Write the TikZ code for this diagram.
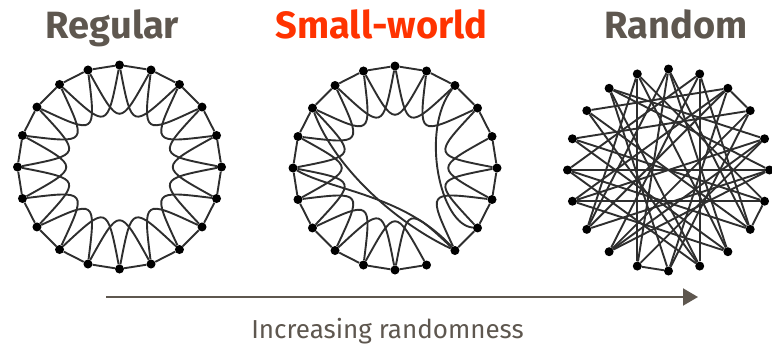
\documentclass[tikz,border=0pt]{standalone}
\usepackage{fontspec}
\setmainfont{Fira Sans}
\usetikzlibrary{arrows.meta,calc}
\definecolor{titlegrey}{HTML}{5E574F}
\definecolor{titlered}{HTML}{FF3300}
\pgfdeclarelayer{background}
\pgfsetlayers{background,main}
\begin{document}
\begin{tikzpicture}[x=1pt,y=-1pt,
  dot/.style={circle,fill=black,inner sep=0pt,minimum size=9pt},
  edge/.style={draw=black!82,line width=1.9pt},
  title/.style={font=\bfseries\fontsize{38}{42}\selectfont,anchor=base},
  caption/.style={font=\fontsize{26}{30}\selectfont,text=titlegrey,anchor=base},
  axis/.style={draw=titlegrey,line width=2pt,-{Triangle[length=15pt,width=17pt]}}
  ]
\useasboundingbox (0,0) rectangle (772,348);
% centres
\coordinate (cR) at (119.5,167);
\coordinate (cS) at (395,168);
\coordinate (cX) at (668.5,170);
% titles
\node[title,text=titlegrey] (tReg) at (112.5,38) {Regular};
\node[title,text=titlered] (tSW) at (381.5,38) {Small-world};
\node[title,text=titlegrey] (tRand) at (676,38) {Random};
% nodes and inner turning points
\foreach \i in {0,...,19}{
  \path (cR) ++(18*\i-90:102) node[dot] (r\i) {};
  \path (cS) ++(18*\i-90:102) node[dot] (s\i) {};
  \path (cX) ++(18*\i-90:101) node[dot] (x\i) {};
  \coordinate (rp\i) at ($(cR)+(18*\i-72:40)$);
  \coordinate (sp\i) at ($(cS)+(18*\i-72:40)$);
}
\begin{pgfonlayer}{background}
% regular lattice
\foreach \i in {0,...,19}{
  \pgfmathtruncatemacro\j{mod(\i+1,20)}
  \pgfmathtruncatemacro\k{mod(\i+2,20)}
  \draw[edge] (r\i) -- (r\j);
  \draw[edge] (r\i) .. controls (rp\i) and (rp\i) .. (r\k);
}
% small world: lattice with a few rewired links
\foreach \i in {0,...,19}{
  \pgfmathtruncatemacro\j{mod(\i+1,20)}
  \ifnum\i=8\else
    \draw[edge] (s\i) -- (s\j);
  \fi
}
\foreach \i in {0,1,3,4,5,6,8,9,10,11,12,13,14,15,16,17,18,19}{
  \pgfmathtruncatemacro\k{mod(\i+2,20)}
  \draw[edge] (s\i) .. controls (sp\i) and (sp\i) .. (s\k);
}
\draw[edge] (s17) .. controls (335,168) and (395,222) .. (s8);
\draw[edge] (s15) .. controls (330,190) and (405,195) .. (s8);
\draw[edge] (s2) .. controls (420,130) and (440,225) .. (s7);
% random graph
\foreach \a/\b in {2/3,6/7,10/11,
  0/7,0/11,0/13,0/8,1/9,1/12,1/15,1/7,2/10,2/13,2/17,3/12,3/10,3/16,
  4/14,4/11,4/18,4/12,5/13,5/15,5/12,5/18,6/14,6/16,6/19,7/15,7/17,
  8/16,8/19,8/14,9/17,9/15,9/18,10/18,11/19,13/19,14/2}{
  \draw[edge] (x\a) -- (x\b);
}
\end{pgfonlayer}
% axis
\coordinate (aStart) at (106,297);
\coordinate (aEnd) at (698,297);
\draw[axis] (aStart) -- (aEnd);
\node[caption] (cap) at (387.5,338) {Increasing randomness};
\end{tikzpicture}
\end{document}
